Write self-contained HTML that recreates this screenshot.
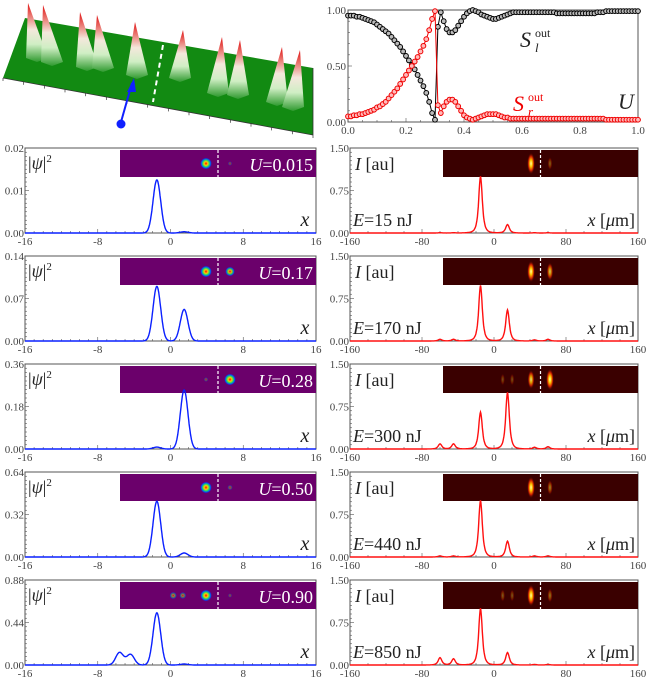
<!DOCTYPE html>
<html><head><meta charset="utf-8">
<style>
html,body{margin:0;padding:0;background:#fff;}
svg{display:block;font-family:"Liberation Serif",serif;}
</style></head>
<body>
<svg id="fig" width="651" height="692" viewBox="0 0 651 692" xmlns="http://www.w3.org/2000/svg">
<defs>
<linearGradient id="coneG" x1="0" y1="1" x2="0" y2="0">
<stop offset="0" stop-color="#2f9a2f"/><stop offset="0.3" stop-color="#cfeec4"/><stop offset="0.55" stop-color="#f4e8dc"/><stop offset="1" stop-color="#e01010"/>
</linearGradient>
<radialGradient id="rainbow"><stop offset="0" stop-color="#ff0000"/><stop offset="0.3" stop-color="#ffcc00"/><stop offset="0.55" stop-color="#22dd66"/><stop offset="0.8" stop-color="#0044ff"/><stop offset="1" stop-color="#6b006b" stop-opacity="0"/></radialGradient>
<radialGradient id="heat"><stop offset="0" stop-color="#ffffc0"/><stop offset="0.3" stop-color="#ffcc00"/><stop offset="0.65" stop-color="#d02000"/><stop offset="1" stop-color="#3a0000" stop-opacity="0"/></radialGradient>
</defs>
<g id="scene">
<polygon points="25,18 313,68 313,135 3,78" fill="#128a12"/>
<line x1="3" y1="78" x2="313" y2="135" stroke="#333" stroke-width="0.8"/>
<line x1="313" y1="68" x2="313" y2="135" stroke="#333" stroke-width="0.8"/>
</g>
<g id="top"></g>
<g id="panels"></g>
</svg>
<script>
// ===== top chart data =====
const uStep = 0.01;
const sLeft = [.95,.95,.95,.94,.94,.93,.92,.91,.90,.89,
.87,.85,.83,.81,.79,.76,.73,.70,.67,.63,
.59,.55,.51,.47,.42,.37,.32,.26,.18,.08,
.02,.85,.98,.90,.83,.80,.80,.82,.86,.90,
.94,.97,.99,1.0,.99,.98,.96,.95,.94,.93,
.92,.92,.93,.94,.95,.96,.97,.98,.98,.98,
.98,.98,.98,.98,.98,.98,.98,.98,.98,.98,
.98,.98,.97,.97,.97,.97,.97,.97,.97,.97,
.97,.97,.97,.97,.97,.97,.98,.98,.98,.99,
.99,.99,.99,.99,.99,.99,.99,.99,.99,.99,.99];
const sRight = [.05,.05,.06,.06,.07,.07,.08,.09,.10,.11,
.13,.14,.16,.18,.21,.24,.27,.30,.34,.38,
.42,.46,.50,.54,.58,.63,.68,.74,.82,.92,
.99,.15,.08,.14,.18,.20,.20,.18,.14,.10,
.06,.04,.03,.02,.03,.04,.05,.06,.07,.07,
.07,.07,.06,.05,.04,.04,.03,.03,.03,.03,
.03,.03,.03,.03,.03,.03,.03,.03,.03,.03,
.03,.03,.03,.03,.03,.03,.03,.03,.03,.03,
.03,.03,.03,.03,.03,.03,.03,.03,.03,.02,
.02,.02,.02,.02,.02,.02,.02,.02,.02,.02,.02];
const topXTicks = ["0.0","0.2","0.4","0.6","0.8","1.0"];
const topYTicks = ["0.00","0.50","1.00"];

// ===== panel data =====
const uLabels = ["0.015","0.17","0.28","0.50","0.90"];
const eLabels = ["15","170","300","440","850"];
const leftYMax = [0.02,0.14,0.36,0.64,0.88];
const leftYTickLabels = [["0.00","0.01","0.02"],["0.00","0.07","0.14"],["0.00","0.18","0.36"],["0.00","0.32","0.64"],["0.00","0.44","0.88"]];
const leftPeakX = [[-1.5,1.5],[-1.5,1.5],[-1.5,1.5],[-1.5,1.5],[-5.6,-4.4,-1.5,1.5]];
const leftPeakH = [[0.0125,0.0003],[0.09,0.052],[0.008,0.25],[0.42,0.03],[0.13,0.11,0.54,0.01]];
const leftXTicks = ["-16","-8","0","8","16"];
const rightYTickLabels = ["0.00","0.75","1.50"];
const rightPeakX = [[-15,15,-60,-45,45,60],[-15,15,-60,-45,45,60],[-15,15,-60,-45,45,60],[-15,15,-60,-45,45,60],[-15,15,-60,-45,45,60]];
const rightPeakH = [[1.0,0.15,0.005,0.005,0.005,0.005],[0.98,0.55,0.03,0.03,0.02,0.03],[0.65,1.0,0.09,0.09,0.03,0.04],[1.0,0.28,0.02,0.02,0.02,0.02],[1.0,0.22,0.13,0.11,0.01,0.01]];
const rightXTicks = ["-160","-80","0","80","160"];

const NS="http://www.w3.org/2000/svg";
function mk(tag, attrs, parent){const e=document.createElementNS(NS,tag);for(const k in attrs)e.setAttribute(k,attrs[k]);parent.appendChild(e);return e;}
function txt(parent,x,y,s,size,fill,anchor,style){const t=mk('text',{x:x,y:y,'font-size':size,fill:fill||'#444','text-anchor':anchor||'start'},parent);if(style)t.setAttribute('font-style',style);t.textContent=s;return t;}

// ===== 3D scene cones =====
const scene=document.getElementById('scene');
const cones=[[28,3,37,58],[43,5,52,62],[80,12,87,67],[97,15,103,68],[135,22,137,75],[183,30,180,78],[222,37,218,93],[240,40,238,95],[282,47,277,102],[300,50,293,107]];
for(let i=0;i<16;i++){const t=i/15;const x=3+310*t,y=78+57*t;const l=mk('line',{x1:x,y1:y,x2:x,y2:y+3,stroke:'#333','stroke-width':0.7},scene);}
cones.forEach((c,i)=>{const p=mk('polygon',{points:`${c[0]},${c[1]} ${c[2]+11},${c[3]} ${c[2]},${c[3]+4} ${c[2]-11},${c[3]}`,fill:'url(#coneG)'},scene);
});
const dl=mk('line',{x1:163,y1:45,x2:153,y2:102,stroke:'#fff','stroke-width':2,'stroke-dasharray':'5,4'},scene);

const ar=mk('line',{x1:121,y1:122,x2:132,y2:83,stroke:'#1020ff','stroke-width':2},scene);

const ah=mk('polygon',{points:'134,78 127,92 136,92',fill:'#1020ff'},scene);

const ad=mk('circle',{cx:121,cy:124,r:4.5,fill:'#1020ff'},scene);


// ===== top chart =====
const topG=document.getElementById('top');

const TX0=348,TX1=638,TY0=10,TY1=122;
const tx=u=>TX0+(TX1-TX0)*u, ty=v=>TY1-(TY1-TY0)*v;
const tf=mk('rect',{x:TX0,y:TY0,width:TX1-TX0,height:TY1-TY0,fill:'none',stroke:'#555','stroke-width':1},topG);

for(let i=0;i<=20;i++){const x=tx(i/20);mk('line',{x1:x,y1:TY1,x2:x,y2:TY1-(i%4==0?4:2),stroke:'#555','stroke-width':0.6},topG);}
for(let i=0;i<=10;i++){const y=ty(i/10);mk('line',{x1:TX0,y1:y,x2:TX0+(i%5==0?4:2),y2:y,stroke:'#555','stroke-width':0.6},topG);}
topXTicks.forEach((s,i)=>{const t=txt(topG,tx(i/5),134,s,11,'#444','middle');});
topYTicks.forEach((s,i)=>{const t=txt(topG,TX0-2,ty(i/2)+4,s,11,'#444','end');});
function series(vals,col,name){
  const g=mk('g',{},topG);
  const d=vals.map((v,i)=>(i?'L':'M')+tx(i*uStep).toFixed(1)+','+ty(v).toFixed(1)).join('');
  const p=mk('path',{d:d,fill:'none',stroke:col,'stroke-width':1},g);
  
  vals.forEach((v,i)=>{const c=mk('circle',{cx:tx(i*uStep),cy:ty(v),r:2.4,fill:col==='#000'?'#bbb':'#fbb',stroke:col,'stroke-width':1},g);
    });
}
series(sLeft,'#000','s-left-series');
series(sRight,'#f00000','s-right-series');
function sLabel(x,y,col,sub,name){
  const t=txt(topG,x,y,'S',22,col,'start','italic');
  const o=txt(topG,x+15,y-10,'out',12,col,'start');
  const s=txt(topG,x+15,y+5,sub,13,col,'start','italic');
}
sLabel(520,47,'#222','l','s-left-label');
sLabel(513,111,'#f00000','r','s-right-label');
let tu=txt(topG,618,109,'U',22,'#222','start','italic');

// ===== panels =====
const panels=document.getElementById('panels');
function profileL(x,pk,ph){let s=0;for(let k=0;k<pk.length;k++){const d=(x-pk[k])/0.42;s+=ph[k]*Math.exp(-d*d/2);}return s;}
function profileR(x,pk,ph){let s=0;for(let k=0;k<pk.length;k++){const d=(x-pk[k])/3.2;s+=ph[k]/Math.pow(1+d*d,1.6);}return s;}
for(let i=0;i<5;i++){
  const PT=148+108*i, PB=233+108*i;
  const gl=mk('g',{},panels);
  const LX0=25,LX1=316;
  const lx=x=>LX0+(LX1-LX0)*(x+16)/32, ly=v=>PB-(PB-PT)*v/leftYMax[i];
  const fr=mk('rect',{x:LX0,y:PT,width:LX1-LX0,height:PB-PT,fill:'none',stroke:'#555','stroke-width':1},gl);
  
  for(let k=0;k<=32;k++){const x=lx(-16+k);mk('line',{x1:x,y1:PB,x2:x,y2:PB-(k%8==0?4:2),stroke:'#555','stroke-width':0.6},gl);}
  for(let k=0;k<=20;k++){const y=PB-(PB-PT)*k/20;mk('line',{x1:LX0,y1:y,x2:LX0+(k%10==0?4:2),y2:y,stroke:'#555','stroke-width':0.6},gl);}
  leftXTicks.forEach((s,k)=>{const t=txt(gl,lx(-16+8*k),PB+12,s,11,'#444','middle');});
  leftYTickLabels[i].forEach((s,k)=>{const t=txt(gl,LX0-1,PB-(PB-PT)*k/2+4,s,11,'#444','end');});
  const IX0=120,IX1=316,IY0=PT+2,IY1=PT+29,IC=(IX0+IX1)/2;
  const ins=mk('rect',{x:IX0,y:IY0,width:IX1-IX0,height:IY1-IY0,fill:'#6b006b'},gl);
  
  leftPeakX[i].forEach((px,k)=>{const h=leftPeakH[i][k]/Math.max(...leftPeakH[i]);if(h<0.005)return;
    const c=mk('circle',{cx:IC+px*8,cy:(IY0+IY1)/2,r:1.5+4.5*Math.sqrt(h),fill:'url(#rainbow)',opacity:Math.min(1,0.3+h)},gl);
    });
  mk('line',{x1:IC,y1:IY0,x2:IC,y2:IY1,stroke:'#fff','stroke-width':1.2,'stroke-dasharray':'3,2'},gl);
  let ul=txt(gl,IX1-3,IY0+21,'',18,'#fff','end');
  let a=mk('tspan',{'font-style':'italic'},ul);a.textContent='U';let b=mk('tspan',{},ul);b.textContent='='+uLabels[i];
  let psi=txt(gl,28,PT+21,'',18,'#222','start');
  a=mk('tspan',{},psi);a.textContent='|';a=mk('tspan',{'font-style':'italic'},psi);a.textContent='ψ';a=mk('tspan',{},psi);a.textContent='|';a=mk('tspan',{'font-size':11,dy:-7},psi);a.textContent='2';
  let xl=txt(gl,305,PB-7,'x',20,'#222','middle','italic');
  let d='';for(let x=-16;x<=16.001;x+=0.05){d+=(d?'L':'M')+lx(x).toFixed(1)+','+ly(profileL(x,leftPeakX[i],leftPeakH[i])).toFixed(1);}
  const lp=mk('path',{d:d,fill:'none',stroke:'#0a20ff','stroke-width':1.4},gl);
  

  const gr=mk('g',{},panels);
  const RX0=350,RX1=638;
  const rx=x=>RX0+(RX1-RX0)*(x+160)/320, ry=v=>PB-(PB-PT)*v/1.5;
  const rf=mk('rect',{x:RX0,y:PT,width:RX1-RX0,height:PB-PT,fill:'none',stroke:'#555','stroke-width':1},gr);
  
  for(let k=0;k<=16;k++){const x=rx(-160+20*k);mk('line',{x1:x,y1:PB,x2:x,y2:PB-(k%4==0?4:2),stroke:'#555','stroke-width':0.6},gr);}
  for(let k=0;k<=20;k++){const y=PB-(PB-PT)*k/20;mk('line',{x1:RX0,y1:y,x2:RX0+(k%10==0?4:2),y2:y,stroke:'#555','stroke-width':0.6},gr);}
  rightXTicks.forEach((s,k)=>{const t=txt(gr,rx(-160+80*k),PB+12,s,11,'#444','middle');});
  rightYTickLabels.forEach((s,k)=>{const t=txt(gr,RX0-1,PB-(PB-PT)*k/2+4,s,11,'#444','end');});
  const JX0=443,JX1=638,JC=540.5;
  const ri=mk('rect',{x:JX0,y:IY0,width:JX1-JX0,height:IY1-IY0,fill:'#3a0000'},gr);
  
  rightPeakX[i].forEach((px,k)=>{const h=rightPeakH[i][k];if(h<0.05)return;
    const e=mk('ellipse',{cx:JC+px*0.63,cy:(IY0+IY1)/2,rx:1.5+2.5*Math.sqrt(h),ry:4+7*Math.sqrt(h),fill:'url(#heat)',opacity:Math.min(1,0.2+h)},gr);
    });
  mk('line',{x1:JC,y1:IY0,x2:JC,y2:IY1,stroke:'#fff','stroke-width':1.2,'stroke-dasharray':'3,2'},gr);
  let il=txt(gr,355,PT+22,'',18,'#222');
  a=mk('tspan',{'font-style':'italic'},il);a.textContent='I';a=mk('tspan',{},il);a.textContent=' [au]';
  let el=txt(gr,353,PB-7,'',18,'#222');
  a=mk('tspan',{'font-style':'italic'},el);a.textContent='E';a=mk('tspan',{},el);a.textContent='='+eLabels[i]+' nJ';
  let xr=txt(gr,635,PB-7,'',18,'#222','end');
  a=mk('tspan',{'font-style':'italic'},xr);a.textContent='x';a=mk('tspan',{},xr);a.textContent=' [';a=mk('tspan',{'font-style':'italic'},xr);a.textContent='μ';a=mk('tspan',{},xr);a.textContent='m]';
  d='';for(let x=-160;x<=160.001;x+=0.5){d+=(d?'L':'M')+rx(x).toFixed(1)+','+ry(profileR(x,rightPeakX[i],rightPeakH[i])).toFixed(1);}
  const rp=mk('path',{d:d,fill:'none',stroke:'#ff1010','stroke-width':1.4},gr);
  
}
</script>
</body></html>
